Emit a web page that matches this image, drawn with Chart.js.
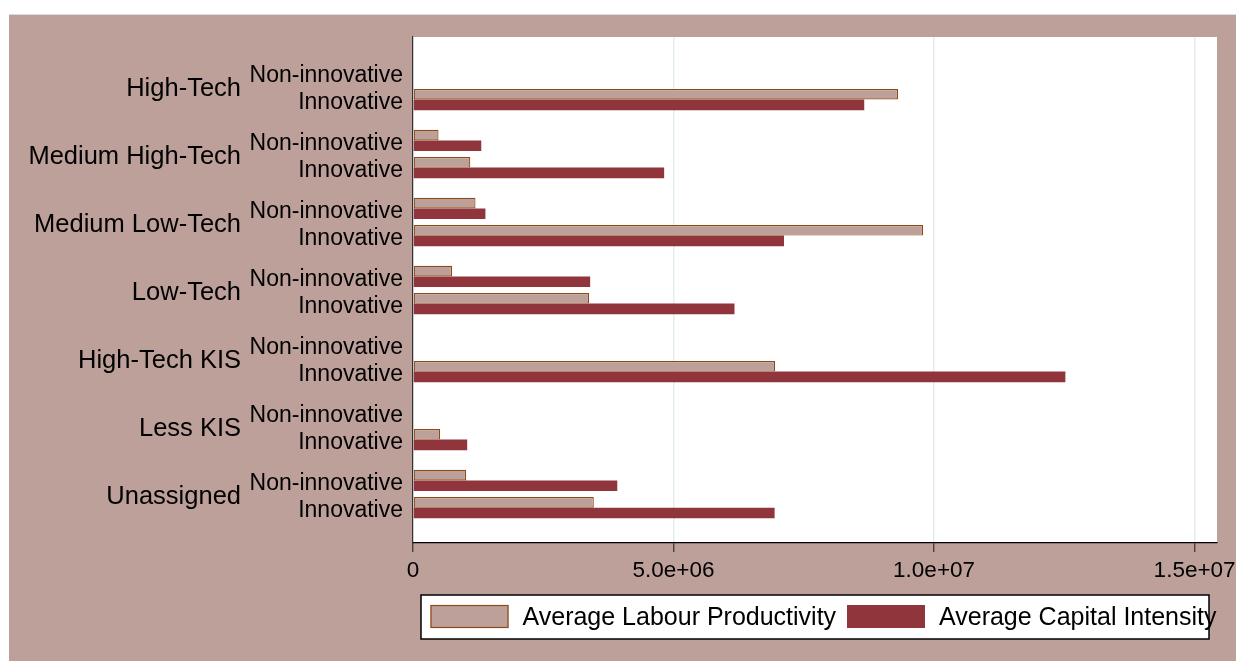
<!DOCTYPE html>
<html lang="en">
<head>
    <meta charset="UTF-8">
    <title>Average Labour Productivity and Capital Intensity by Sector</title>
    <script src="https://cdn.jsdelivr.net/npm/chart.js"></script>
    <style>
        html, body { margin: 0; padding: 0; background: #ffffff; }
        canvas { display: block; }
    </style>
</head>
<body>
    <canvas id="grafik" width="1236" height="661"></canvas>

    <script>
        // Sector groups, each split into non-innovative / innovative firms
        const groups = ['High-Tech', 'Medium High-Tech', 'Medium Low-Tech', 'Low-Tech', 'High-Tech KIS', 'Less KIS', 'Unassigned'];
        const subgroups = ['Non-innovative', 'Innovative'];

        // One value per row (group x subgroup), null where there is no bar
        const labourProductivity = [null, 9.31e6, 0.49e6, 1.10e6, 1.20e6, 9.79e6, 0.75e6, 3.38e6, null, 6.95e6, null, 0.52e6, 1.02e6, 3.47e6];
        const capitalIntensity   = [null, 8.66e6, 1.31e6, 4.82e6, 1.39e6, 7.12e6, 3.40e6, 6.17e6, null, 12.52e6, null, 1.04e6, 3.92e6, 6.94e6];

        const seriesNames = ['Average Labour Productivity', 'Average Capital Intensity'];

        const xTickValues = [0, 5e6, 1e7, 1.5e7];
        const xTickLabels = ['0', '5.0e+06', '1.0e+07', '1.5e+07'];

        const FONT = "'Liberation Sans', Arial, sans-serif";
        const BG = '#bea09a';

        // row positions on the y scale: groups spaced a bit wider than rows
        const rowPos = [];
        const rowNames = [];
        groups.forEach((g, gi) => {
            subgroups.forEach((s, si) => {
                rowPos.push(gi * 2.5 + si);
                rowNames.push(s);
            });
        });

        const toPoints = values => values.map((v, i) => ({ x: v, y: rowPos[i] }));

        // brown page background, white plot region
        const background = {
            id: 'background',
            beforeDraw(chart) {
                const ctx = chart.ctx;
                const a = chart.chartArea;
                ctx.save();
                ctx.fillStyle = BG;
                ctx.fillRect(9, 15, chart.width - 9, chart.height - 15);
                ctx.strokeStyle = '#dcdcdc';
                ctx.lineWidth = 1;
                ctx.beginPath();
                ctx.moveTo(9, 14.5);
                ctx.lineTo(chart.width, 14.5);
                ctx.stroke();
                ctx.fillStyle = '#ffffff';
                ctx.fillRect(a.left, a.top, a.right - a.left, a.bottom - a.top);
                ctx.restore();
            }
        };

        // outer group labels, centred between their two rows
        const groupLabels = {
            id: 'groupLabels',
            afterDraw(chart) {
                const ctx = chart.ctx;
                const y = chart.scales.y;
                ctx.save();
                ctx.font = '25.5px ' + FONT;
                ctx.fillStyle = '#000000';
                ctx.textAlign = 'right';
                ctx.textBaseline = 'middle';
                groups.forEach((g, gi) => {
                    const mid = (y.getPixelForValue(rowPos[gi * 2]) + y.getPixelForValue(rowPos[gi * 2 + 1])) / 2;
                    ctx.fillText(g, 241, mid + 3);
                });
                ctx.restore();
            }
        };

        // boxed legend below the axis
        const boxLegend = {
            id: 'boxLegend',
            afterDraw(chart) {
                const ctx = chart.ctx;
                const a = chart.chartArea;
                const w = 788, h = 44;
                const left = (a.left + a.right) / 2 - w / 2;
                const top = 595;
                ctx.save();
                ctx.fillStyle = '#ffffff';
                ctx.fillRect(left, top, w, h);
                ctx.strokeStyle = '#000000';
                ctx.lineWidth = 1.5;
                ctx.strokeRect(left, top, w, h);
                ctx.font = '25px ' + FONT;
                ctx.textBaseline = 'middle';
                ctx.textAlign = 'left';
                chart.data.datasets.forEach((ds, i) => {
                    const sx = left + 9.5 + i * 416.5;
                    const sy = top + 10;
                    ctx.fillStyle = ds.backgroundColor;
                    ctx.fillRect(sx, sy, 78, 23);
                    if (ds.borderWidth) {
                        ctx.strokeStyle = ds.borderColor;
                        ctx.lineWidth = 1.2;
                        ctx.strokeRect(sx + 0.5, sy + 0.5, 77, 22);
                    }
                    ctx.fillStyle = '#000000';
                    ctx.fillText(ds.label, sx + 92, top + h / 2 + 1);
                });
                ctx.restore();
            }
        };

        const ctx = document.getElementById('grafik').getContext('2d');
        new Chart(ctx, {
            type: 'bar',
            data: {
                datasets: [{
                    label: seriesNames[0],
                    data: toPoints(labourProductivity),
                    backgroundColor: BG,
                    borderColor: '#8e4a16',
                    borderWidth: 1.2,
                    borderSkipped: false
                }, {
                    label: seriesNames[1],
                    data: toPoints(capitalIntensity),
                    backgroundColor: '#90353b',
                    borderWidth: 0
                }]
            },
            options: {
                indexAxis: 'y',
                responsive: false,
                animation: false,
                categoryPercentage: 0.78,
                barPercentage: 1.0,
                layout: {
                    autoPadding: false,
                    padding: { top: 37, right: 19, bottom: 0, left: 0 }
                },
                scales: {
                    x: {
                        type: 'linear',
                        min: 0,
                        max: 1.543e7,
                        afterBuildTicks: scale => {
                            scale.ticks = xTickValues.map(v => ({ value: v }));
                        },
                        afterFit: scale => {
                            // let the last tick label run past the plot edge
                            scale.height = 118;
                            scale.paddingLeft = 0;
                            scale.paddingRight = 0;
                        },
                        grid: {
                            color: '#e3edf0',
                            lineWidth: 1.5,
                            tickColor: '#333333',
                            tickLength: 9,
                            tickWidth: 1.2
                        },
                        border: { display: true, color: '#000000', width: 1.2 },
                        ticks: {
                            autoSkip: false,
                            maxRotation: 0,
                            padding: 5,
                            color: '#000000',
                            font: { family: FONT, size: 22.5 },
                            callback: value => xTickLabels[xTickValues.indexOf(value)]
                        }
                    },
                    y: {
                        type: 'linear',
                        reverse: true,
                        offset: false,
                        min: -1.3,
                        max: 17.3,
                        afterBuildTicks: scale => {
                            scale.ticks = rowPos.map(v => ({ value: v }));
                        },
                        afterFit: scale => {
                            scale.width = 413;
                            scale.paddingTop = 0;
                            scale.paddingBottom = 0;
                        },
                        grid: { display: false, drawTicks: false },
                        border: { display: true, color: '#333333', width: 1.2 },
                        ticks: {
                            autoSkip: false,
                            padding: 10,
                            labelOffset: 3,
                            color: '#000000',
                            font: { family: FONT, size: 23 },
                            callback: value => rowNames[rowPos.indexOf(value)]
                        }
                    }
                },
                plugins: {
                    legend: { display: false },
                    tooltip: { enabled: false }
                }
            },
            plugins: [background, groupLabels, boxLegend]
        });
    </script>
</body>
</html>
